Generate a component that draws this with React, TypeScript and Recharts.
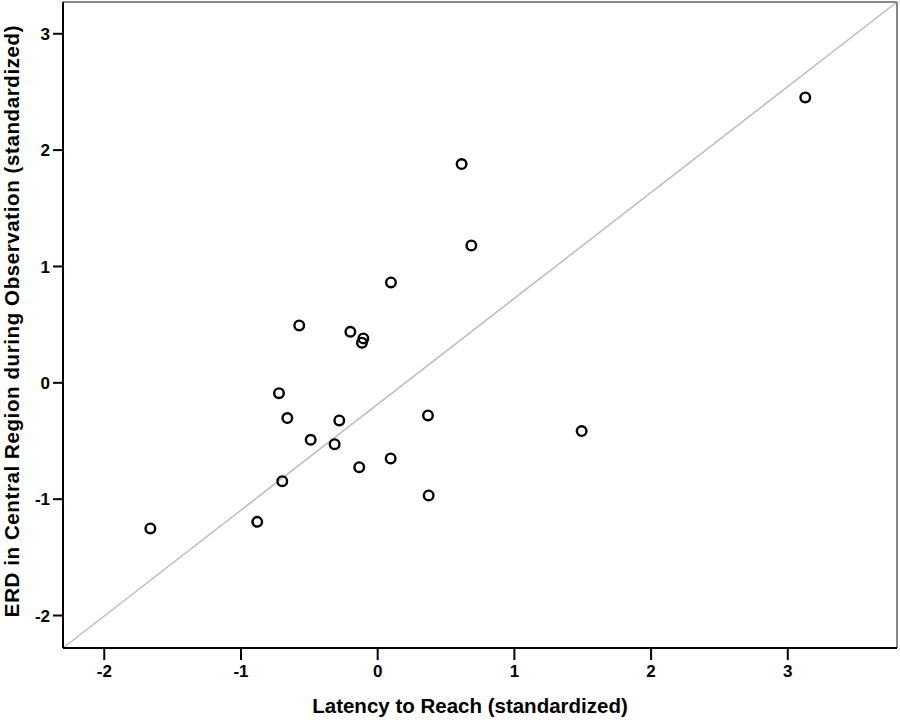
import React from "react";
import {
  ScatterChart,
  Scatter,
  XAxis,
  YAxis,
  ReferenceLine,
  Label,
} from "recharts";

// standardized scores
const latency = [
  -1.663, -0.881, -0.698, -0.722, -0.661, -0.574, -0.49, -0.315, -0.281, -0.2,
  -0.135, -0.105, -0.115, 0.097, 0.095, 0.368, 0.373, 0.614, 0.685, 1.492,
  3.128,
];
const erd = [
  -1.251, -1.195, -0.845, -0.089, -0.303, 0.493, -0.489, -0.527, -0.323, 0.439,
  -0.725, 0.382, 0.345, 0.863, -0.65, -0.28, -0.968, 1.88, 1.181, -0.415,
  2.453,
];
const xTicks = [-2, -1, 0, 1, 2, 3];
const yTicks = [-2, -1, 0, 1, 2, 3];
const xDomain = [-2.302, 3.799];
const yDomain = [-2.279, 3.273];

const points = latency.map((x, i) => ({ x, y: erd[i] }));

const font = "'Liberation Sans', Arial, sans-serif";
const tickStyle = { fontSize: 17, fontWeight: "bold", fill: "#000", fontFamily: font };

const RingShape = (props: any) => {
  const { cx, cy } = props;
  if (cx == null || cy == null) return null;
  return (
    <circle cx={cx} cy={cy} r={4.8} fill="none" stroke="#000" strokeWidth={2.4} />
  );
};

const XTitle = () => (
  <text
    x={470}
    y={713}
    textAnchor="middle"
    fontSize={20.5}
    fontWeight="bold"
    fontFamily={font}
    fill="#000"
  >
    Latency to Reach (standardized)
  </text>
);

const YTitle = () => (
  <text
    x={19}
    y={321}
    transform="rotate(-90, 19, 321)"
    textAnchor="middle"
    fontSize={20.5}
    fontWeight="bold"
    fontFamily={font}
    letterSpacing={0.6}
    fill="#000"
  >
    ERD in Central Region during Observation (standardized)
  </text>
);

const App = () => {
  return (
    <div style={{ position: "absolute", left: 0, top: 0, background: "#fff" }}>
      <ScatterChart
        width={900}
        height={720}
        margin={{ top: 2, right: 3, left: 0, bottom: 0 }}
      >
        <XAxis
          type="number"
          dataKey="x"
          domain={xDomain}
          ticks={xTicks}
          allowDataOverflow
          height={72}
          stroke="#000"
          strokeWidth={2}
          tickSize={12}
          tickMargin={5}
          tick={tickStyle}
        >
          <Label content={<XTitle />} />
        </XAxis>
        <YAxis
          type="number"
          dataKey="y"
          domain={yDomain}
          ticks={yTicks}
          allowDataOverflow
          width={63}
          stroke="#000"
          strokeWidth={2}
          tickSize={10}
          tickMargin={3}
          tick={tickStyle}
        >
          <Label content={<YTitle />} />
        </YAxis>
        <ReferenceLine
          segment={[
            { x: xDomain[0], y: yDomain[0] },
            { x: xDomain[1], y: yDomain[1] },
          ]}
          stroke="#bdbdbd"
          strokeWidth={1.5}
          ifOverflow="visible"
        />
        <ReferenceLine y={yDomain[1]} stroke="#888" strokeWidth={2} ifOverflow="visible" />
        <ReferenceLine x={xDomain[1]} stroke="#888" strokeWidth={2} ifOverflow="visible" />
        <Scatter data={points} shape={<RingShape />} isAnimationActive={false} />
      </ScatterChart>
    </div>
  );
};

export default App;
